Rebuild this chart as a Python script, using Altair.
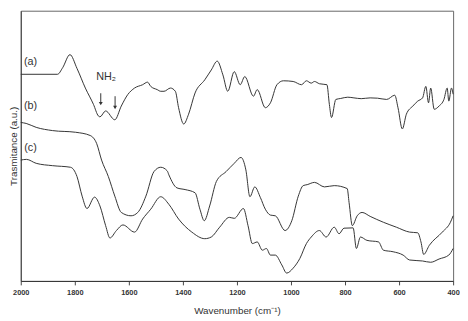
import altair as alt
import pandas as pd

# ---- data (transmittance in arbitrary units) ----
wn_a = [2000, 1864, 1845, 1818, 1792, 1761, 1731, 1713, 1707, 1686, 1652, 1628, 1604, 1579, 1549,
        1531, 1519, 1495, 1482, 1470, 1446, 1428, 1416, 1397, 1379, 1355, 1319, 1295, 1273, 1252,
        1234, 1210, 1188, 1171, 1139, 1125, 1095, 1076, 1052, 1028, 992, 961, 943, 925, 913, 895,
        867, 858, 850, 834, 816, 790, 767, 740, 707, 680, 646, 616, 604, 588, 573, 549, 531, 513,
        501, 491, 483, 470, 452, 434, 422, 416, 406, 400]
tr_a = [210.3, 210.3, 217, 230.3, 216.3, 196.3, 179.7, 168, 167, 173, 164, 178, 189.7, 196.3, 199.7,
        202.3, 198, 194.7, 193, 193, 196.3, 193, 176.3, 159.7, 169.7, 191.3, 204.7, 214.7, 223.7, 209.7,
        193, 213, 199.7, 208, 188, 194.7, 176.3, 181.3, 199.7, 203.7, 203, 199.7, 203.7, 201.3, 203, 200.7,
        199.7, 179.7, 166.3, 184.7, 185.7, 187, 186.3, 185.5, 186.3, 186, 184.7, 189, 176.3, 154.7, 169.7,
        178, 183, 186.3, 198, 181.3, 196.3, 174.7, 178, 184.7, 196.3, 183, 196.3, 190]

wn_b = [2000, 1980, 1943, 1882, 1797, 1743, 1719, 1701, 1676, 1652, 1628, 1592, 1567, 1537, 1507,
        1482, 1458, 1452, 1422, 1392, 1355, 1337, 1321, 1301, 1276, 1240, 1210, 1185, 1167, 1152,
        1134, 1113, 1095, 1076, 1058, 1022, 997, 973, 955, 940, 913, 876, 840, 792, 785, 773, 755,
        737, 707, 658, 610, 561, 531, 519, 509, 488, 440, 410, 400]
tr_b = [161.3, 160.3, 156.3, 153, 151.3, 148, 139.7, 123, 106.3, 86.3, 69.7, 66.3, 69.7, 86.3, 111.3,
        115.7, 112, 108, 94.7, 93, 89.7, 73, 61.3, 76.3, 101.3, 111.3, 119.7, 125.7, 113, 85.7,
        95.7, 84.7, 73, 67, 66.3, 51.3, 61.3, 86.3, 97, 98, 100.3, 95.7, 97, 94, 79.7, 56.3, 66.3,
        69.7, 65.7, 59.7, 54.7, 49.7, 49, 39.7, 27, 36.3, 49.7, 59.7, 66.3]

wn_c = [2000, 1979, 1943, 1882, 1816, 1792, 1773, 1755, 1727, 1707, 1686, 1670, 1646, 1622, 1579,
        1549, 1519, 1482, 1452, 1416, 1367, 1319, 1295, 1264, 1228, 1210, 1176, 1159, 1143, 1125,
        1106, 1091, 1076, 1058, 1034, 1016, 992, 967, 943, 925, 895, 870, 840, 822, 804, 770, 758,
        743, 719, 676, 658, 622, 585, 561, 513, 483, 452, 416, 400]
tr_c = [123, 123.7, 119.7, 117.3, 115.7, 106.3, 86.3, 73.7, 85.3, 76.3, 56.3, 43.7, 51.3, 57, 49.7,
        63, 73, 85.7, 78, 63, 49.7, 43, 44.7, 54.7, 64.7, 63.7, 73.7, 56.3, 38, 39.7,
        31.3, 33, 26.3, 26.3, 16.3, 8, 13, 23, 38, 44.7, 51.3, 44.7, 54.7, 48, 53.7, 54, 33,
        44.7, 41.3, 39.7, 31.3, 29.7, 26.3, 21.3, 20.3, 19, 22.3, 26.3, 33]

series_names = ["(a)", "(b)", "(c)"]
label_wn = [1964, 1964, 1964]
label_tr = [223, 178, 135]

nh2_text = ["NH\u2082"]
nh2_wn = [1684]
nh2_tr = [208]

arrow_wn = [1704, 1651]
arrow_top = [191, 188]
arrow_bottom = [178, 174]

x_ticks = list(range(2000, 399, -100))

# ---- build tables ----
rows = []
for name, ws, vs in [("a", wn_a, tr_a), ("b", wn_b, tr_b), ("c", wn_c, tr_c)]:
    for i, (w, v) in enumerate(zip(ws, vs)):
        rows.append({"series": name, "wn": w, "tr": v, "order": i})
df = pd.DataFrame(rows)

labels_df = pd.DataFrame({"text": series_names, "wn": label_wn, "tr": label_tr})
nh2_df = pd.DataFrame({"text": nh2_text, "wn": nh2_wn, "tr": nh2_tr})
arrows_df = pd.DataFrame({"wn": arrow_wn, "top": arrow_top, "bottom": arrow_bottom,
                          "head": [b + 2.5 for b in arrow_bottom]})

x_scale = alt.Scale(domain=[400, 2000], reverse=True, nice=False, zero=False)
y_scale = alt.Scale(domain=[0, 275], nice=False, zero=False)

x_axis = alt.Axis(
    title="Wavenumber (cm\u207b\u00b9)", values=x_ticks, format="d",
    labelExpr="datum.value % 200 === 0 ? datum.label : ''",
    labelFlush=False, grid=False, tickSize=4, labelPadding=4,
    labelFontSize=7.5, labelFontWeight="bold", labelColor="#333",
    titleFontSize=10, titleFontWeight="normal", titleColor="#333", titlePadding=10,
    domainColor="#333", tickColor="#444",
)
y_axis = alt.Axis(
    title="Trasmitance (a.u.)", labels=False, ticks=False, grid=False,
    titleFontSize=10, titleFontWeight="normal", titleColor="#333",
    titleX=-2, domainColor="#444",
)

lines = alt.Chart(df).mark_line(color="#333", strokeWidth=1, interpolate="monotone").encode(
    x=alt.X("wn:Q", scale=x_scale, axis=x_axis),
    y=alt.Y("tr:Q", scale=y_scale, axis=y_axis),
    detail="series:N",
    order="order:Q",
)

labels = alt.Chart(labels_df).mark_text(fontSize=11, color="#333", align="center").encode(
    x=alt.X("wn:Q", scale=x_scale), y=alt.Y("tr:Q", scale=y_scale), text="text:N")

nh2 = alt.Chart(nh2_df).mark_text(fontSize=11, color="#333", align="center").encode(
    x=alt.X("wn:Q", scale=x_scale), y=alt.Y("tr:Q", scale=y_scale), text="text:N")

arrow_lines = alt.Chart(arrows_df).mark_rule(color="#333", strokeWidth=1).encode(
    x=alt.X("wn:Q", scale=x_scale), y=alt.Y("top:Q", scale=y_scale), y2="head:Q")

arrow_heads = alt.Chart(arrows_df).mark_point(shape="triangle-down", filled=True, color="#333",
                                              size=16, opacity=1).encode(
    x=alt.X("wn:Q", scale=x_scale), y=alt.Y("head:Q", scale=y_scale))

chart = alt.layer(lines, labels, nh2, arrow_lines, arrow_heads).properties(
    width=440, height=275,
    autosize=alt.AutoSizeParams(type="none"),
    padding={"left": 13, "top": 0, "right": 7, "bottom": 38},
).configure(font="Liberation Sans").configure_view(stroke="#666", strokeWidth=1)

chart.save("out.html", embed_options={"renderer": "svg", "actions": False})
